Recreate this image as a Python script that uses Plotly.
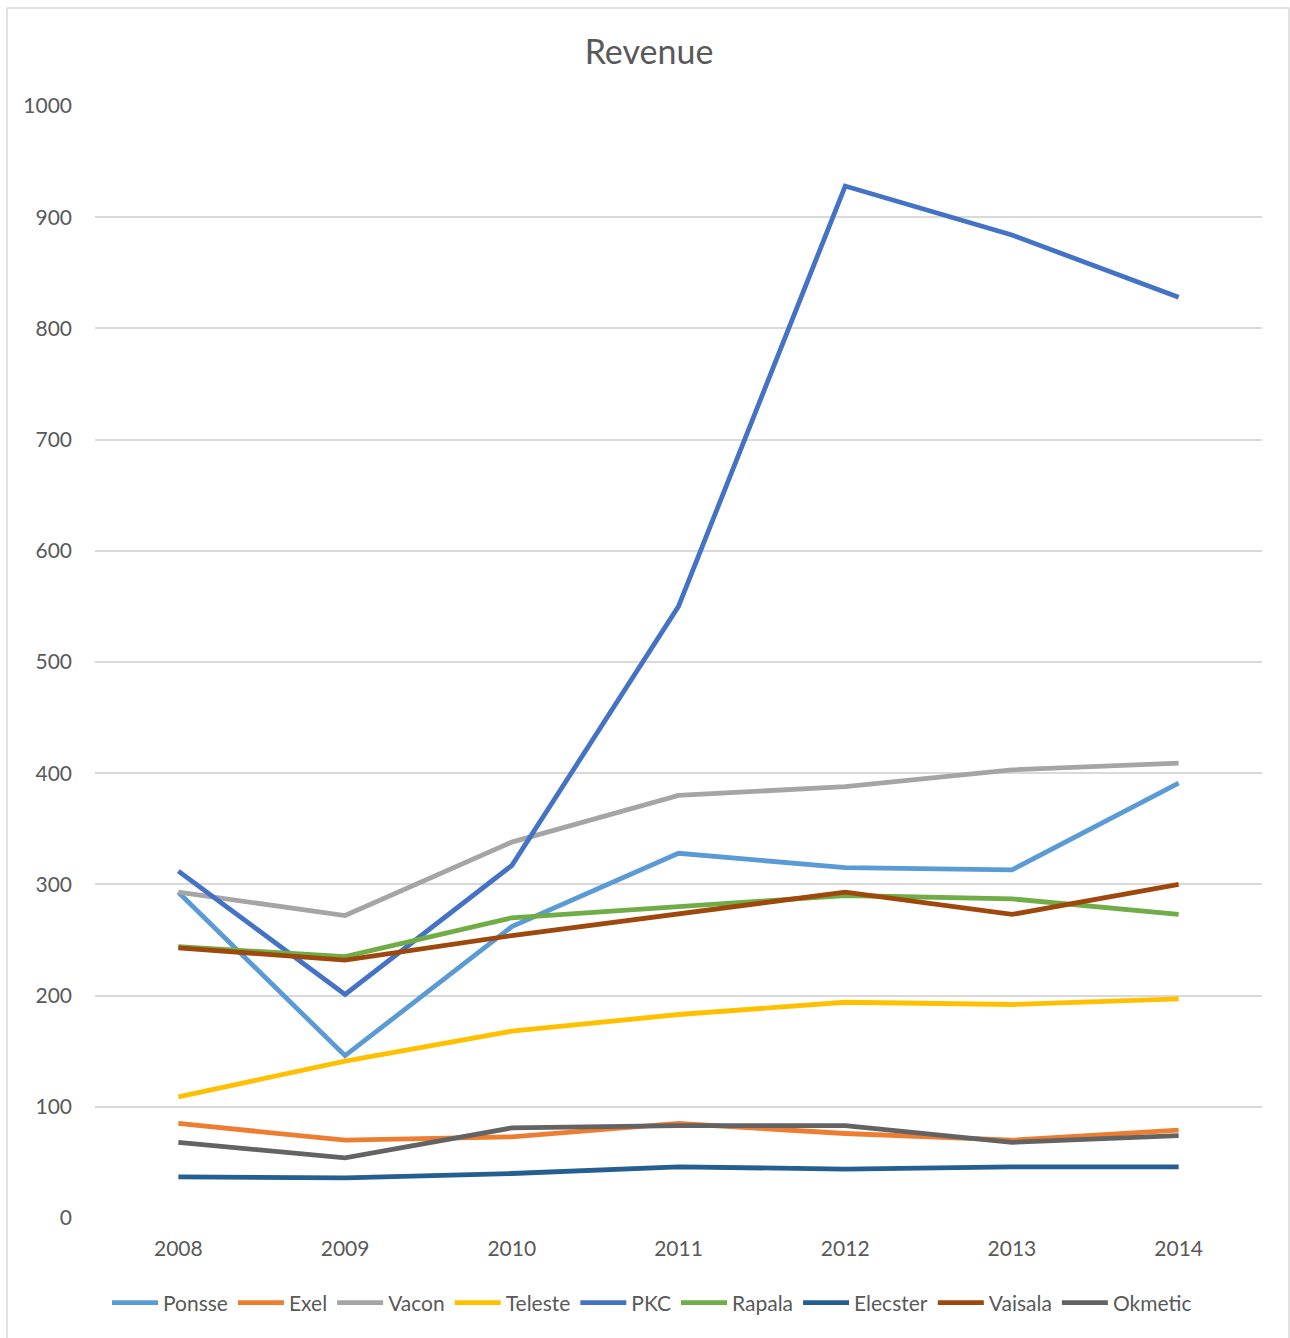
import plotly.graph_objects as go

years = ["2008", "2009", "2010", "2011", "2012", "2013", "2014"]
ponsse = [293, 146, 262, 328, 315, 313, 391]
exel = [85, 70, 73, 85, 76, 70, 79]
vacon = [293, 272, 338, 380, 388, 403, 409]
teleste = [109, 141, 168, 183, 194, 192, 197]
pkc = [312, 201, 317, 550, 928, 884, 828]
rapala = [244, 235, 270, 280, 290, 287, 273]
elecster = [37, 36, 40, 46, 44, 46, 46]
vaisala = [243, 232, 254, 273, 293, 273, 300]
okmetic = [68, 54, 81, 83, 83, 68, 74]

series = [
    ("Ponsse", ponsse, "#5B9BD5"),
    ("Exel", exel, "#ED7D31"),
    ("Vacon", vacon, "#A5A5A5"),
    ("Teleste", teleste, "#FFC000"),
    ("PKC", pkc, "#4472C4"),
    ("Rapala", rapala, "#70AD47"),
    ("Elecster", elecster, "#255E91"),
    ("Vaisala", vaisala, "#9E480E"),
    ("Okmetic", okmetic, "#636363"),
]

fig = go.Figure()
for name, vals, col in series:
    fig.add_trace(go.Scatter(x=years, y=vals, name=name, mode="lines",
                             line=dict(color=col, width=4.8)))

W, H = 1290, 1338
L, R, T, B = 95, 28, 106, 120
pw, ph = W - L - R, H - T - B

def px2x(p):
    return (p - L) / pw

def py2y(p):
    return (H - B - p) / ph

fig.update_layout(
    width=W, height=H,
    margin=dict(l=L, r=R, t=T, b=B),
    paper_bgcolor="white", plot_bgcolor="white",
    font=dict(family="Lato, Open Sans, sans-serif", color="#595959", size=21),
    title=dict(text="Revenue", x=649 / W, xanchor="center",
               y=1 - 52 / H, yanchor="middle", font=dict(size=34, color="#595959")),
    xaxis=dict(type="category", range=[-0.5, 6.5], showgrid=False, zeroline=False,
               showline=False, ticks="", tickfont=dict(size=21, color="#595959"),
               ticklabelstandoff=16),
    yaxis=dict(range=[0, 1000], dtick=100, showgrid=True, gridcolor="#D9D9D9",
               gridwidth=1.5, zeroline=False, showline=False, ticks="",
               tickfont=dict(size=21, color="#595959"), ticklabelstandoff=22),
    legend=dict(orientation="h", x=px2x(652), xanchor="center", y=py2y(1303),
                yanchor="middle", font=dict(size=21, color="#595959"),
                itemwidth=46, tracegroupgap=0),
    showlegend=True,
    shapes=[dict(type="rect", xref="paper", yref="paper",
                 x0=px2x(7), x1=px2x(1289), y0=py2y(1345), y1=py2y(8),
                 line=dict(color="#D9D9D9", width=1.5), fillcolor="rgba(0,0,0,0)",
                 layer="below")],
)

fig.write_html("out.html")
